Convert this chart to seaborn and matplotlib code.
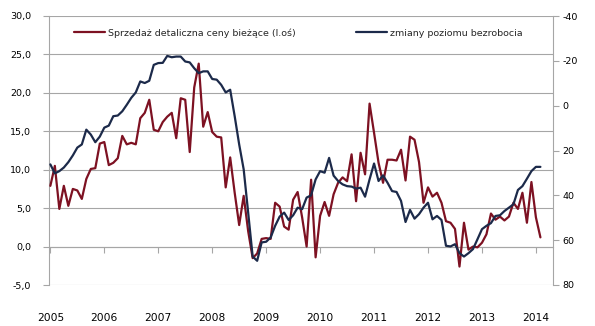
import numpy as np
import pandas as pd
import matplotlib
matplotlib.use("Agg")
import matplotlib.pyplot as plt
import seaborn as sns
from matplotlib.ticker import FuncFormatter

# ---- data (monthly, Jan 2005 - Feb 2014) ----
retail = [7.9, 10.5, 4.9, 7.9, 5.3, 7.5, 7.3, 6.2, 8.8, 10.1, 10.2, 13.4,
          13.6, 10.6, 10.9, 11.5, 14.4, 13.3, 13.5, 13.3, 16.7, 17.4, 19.1, 15.2,
          15.0, 16.2, 16.9, 17.4, 14.1, 19.3, 19.1, 12.3, 20.7, 23.8, 15.6, 17.5,
          14.9, 14.3, 14.2, 7.7, 11.6, 7.0, 2.8, 6.6, 2.0, -1.5, -0.9, 1.0,
          1.1, 1.0, 5.7, 5.2, 2.6, 2.2, 6.1, 7.1, 3.8, 0.0, 8.7, -1.4,
          4.0, 5.8, 4.0, 6.8, 8.3, 9.0, 8.5, 12.0, 5.9, 12.2, 9.4, 18.6,
          14.8, 10.9, 8.3, 11.3, 11.3, 11.2, 12.6, 8.6, 14.3, 13.9, 11.0, 5.7,
          7.7, 6.5, 7.0, 5.7, 3.3, 3.1, 2.3, -2.6, 3.1, -0.4, 0.0, -0.1,
          0.5, 1.6, 4.3, 3.5, 3.9, 3.4, 3.9, 5.7, 4.9, 7.0, 3.1, 8.4,
          3.8, 1.2]
unemp = [26.2, 30.2, 29.2, 27.6, 25.2, 22.2, 18.7, 17.3, 10.7, 12.9, 16.3, 13.8,
         9.8, 8.9, 4.7, 4.4, 2.5, -0.4, -3.5, -5.9, -10.8, -10.1, -11.1, -18.2,
         -19.0, -19.1, -22.2, -21.6, -21.9, -21.9, -19.7, -19.3, -16.7, -14.5, -15.3, -15.3,
         -11.9, -11.6, -9.3, -5.9, -7.1, 4.7, 17.3, 28.4, 47.7, 67.3, 69.2, 61.0,
         60.7, 58.8, 53.6, 49.5, 47.7, 51.0, 48.9, 45.5, 46.2, 41.0, 40.0, 32.9,
         29.2, 29.9, 23.3, 31.2, 33.6, 35.1, 35.9, 36.1, 37.0, 36.6, 40.6, 32.9,
         25.8, 33.6, 31.1, 34.4, 38.1, 38.5, 42.5, 51.9, 46.5, 50.4, 48.4, 45.5,
         43.3, 50.7, 49.2, 51.0, 62.5, 62.8, 61.8, 65.8, 67.3, 65.8, 64.0, 59.6,
         55.1, 53.6, 52.4, 49.2, 48.9, 47.0, 45.5, 44.0, 37.6, 35.9, 32.6, 29.2,
         27.3, 27.3]
years = ['2005', '2006', '2007', '2008', '2009', '2010', '2011', '2012', '2013', '2014']
label_retail = 'Sprzedaż detaliczna ceny bieżące (l.oś)'
label_unemp = 'zmiany poziomu bezrobocia'

df = pd.DataFrame({'m': np.arange(len(retail)), 'retail': retail, 'unemp': unemp})

sns.set_style('white')
plt.rcParams['font.family'] = ['DejaVu Sans']
plt.rcParams['axes.unicode_minus'] = False

RED = '#7d1122'
BLUE = '#1c2a4a'
GRID = '#a6a6a6'

fig = plt.figure(figsize=(5.95, 3.26), dpi=100)
ax = fig.add_axes([49 / 595, 1 - 285 / 326, (553 - 49) / 595, (285 - 16) / 326])
ax2 = ax.twinx()

sns.lineplot(data=df, x='m', y='retail', ax=ax, color=RED, linewidth=1.6, zorder=3)
sns.lineplot(data=df, x='m', y='unemp', ax=ax2, color=BLUE, linewidth=1.6, zorder=3)

# left axis
ax.set_ylim(-5, 30)
ax.set_yticks(np.arange(-5, 31, 5))
ax.yaxis.set_major_formatter(FuncFormatter(lambda v, p: f'{v:.1f}'.replace('.', ',')))
ax.grid(axis='y', color=GRID, linewidth=0.8)
ax.grid(axis='x', visible=False)
ax.set_xlim(-0.3, 111.8)
ax.set_xticks(np.arange(0, len(years) * 12, 12))
ax.set_xticklabels(years)
ax.set_xlabel('')
ax.set_ylabel('')
for s in ['top', 'right']:
    ax.spines[s].set_visible(False)
ax.spines['left'].set_color(GRID)
ax.spines['bottom'].set_color(GRID)
ax.spines['bottom'].set_position(('data', 0))
ax.tick_params(axis='y', which='both', left=True, length=4, width=0.8, color=GRID,
               labelsize=6.8, pad=9, labelcolor='black')
ax.tick_params(axis='x', which='both', bottom=True, length=4, width=0.8, color=GRID,
               labelsize=7.7, pad=44, labelcolor='black', direction='out')

# right axis (inverted)
ax2.set_ylim(80, -40)
ax2.set_yticks(np.arange(-40, 81, 20))
ax2.set_ylabel('')
ax2.grid(False)
for s in ['top', 'left', 'bottom']:
    ax2.spines[s].set_visible(False)
ax2.spines['right'].set_color(GRID)
ax2.tick_params(axis='y', right=True, length=4, width=0.8, color=GRID,
                labelsize=6.8, pad=3, labelcolor='black')

h1 = ax.get_lines()[0]
h2 = ax2.get_lines()[0]
fig.legend([h1, h2], [label_retail, label_unemp], ncol=2, frameon=False,
           loc='center', bbox_to_anchor=(298 / 595, 1 - 33 / 326),
           fontsize=6.8, handlelength=3.3, handletextpad=0.3, columnspacing=6.4)

fig.savefig('out.png', dpi=100)
